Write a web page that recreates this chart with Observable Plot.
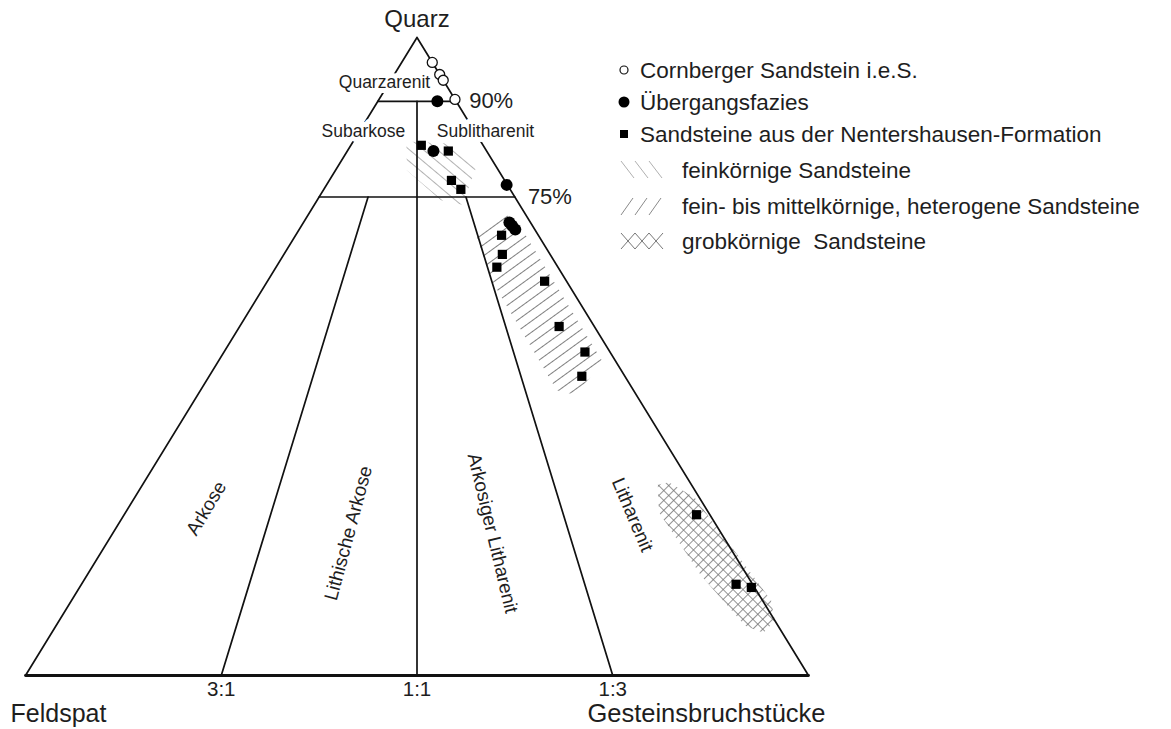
<!DOCTYPE html>
<html>
<head>
<meta charset="utf-8">
<script src="https://cdn.jsdelivr.net/npm/d3@7"></script>
<script src="https://cdn.jsdelivr.net/npm/@observablehq/plot@0.6"></script>
<style>
  body { margin: 0; background: #fff; }
  #wrap { position: relative; width: 1171px; height: 729px; background: #fff; overflow: hidden; }
</style>
</head>
<body>
<div id="wrap"></div>
<script>
// ---------- DATA (ternary percentages: Q = Quarz, F = Feldspat, R = Gesteinsbruchstücke) ----------
const cornbergerQ = [96.1, 94.2, 93.3, 90.3];
const cornbergerF = [0.0, 0.0, 0.0, 0.0];
const cornbergerR = [3.9, 5.8, 6.7, 9.7];

const uebergangQ = [90.0, 82.2, 76.9, 71.0, 70.5, 69.9];
const uebergangF = [2.4, 6.8, 0.1, 2.7, 2.6, 2.5];
const uebergangR = [7.6, 11.0, 23.0, 26.3, 26.9, 27.6];

const nenterQ = [83.1, 82.2, 77.6, 76.2, 69.0, 66.0, 64.0, 61.8, 54.7, 50.7, 46.9, 25.2, 14.3, 13.8];
const nenterF = [7.9, 4.9, 6.8, 6.3, 4.7, 6.1, 7.8, 2.8, 4.5, 3.2, 5.5, 1.7, 2.1, 0.4];
const nenterR = [9.0, 12.9, 15.6, 17.5, 26.3, 27.9, 28.2, 35.4, 40.8, 46.1, 47.6, 73.1, 83.6, 85.8];

// hatched fields (outline vertices, Q and R in %)
const feinQ = [83.7, 83.4, 79.8, 73.8, 74.5, 79.2];
const feinR = [6.8, 12.3, 17.7, 18.9, 15.8, 9.1];
const mittelQ = [68.7, 72.6, 69.8, 49.1, 44.0, 44.7, 62.2];
const mittelR = [23.3, 24.8, 28.6, 49.2, 48.2, 45.5, 28.3];
const grobQ = [29.9, 30.3, 27.9, 18.7, 11.8, 8.6, 6.7, 7.8, 15.7, 25.6];
const grobR = [65.8, 67.0, 71.5, 81.7, 89.3, 91.4, 90.9, 88.0, 78.4, 68.1];

// classification scheme (Folk)
const quarzLevels = [90, 75];
const quarzLevelLabels = ["90%", "75%"];
const ratioShares = [0.25, 0.5, 0.75];       // R / (F + R)
const ratioTops = [75, 90, 75];              // upper end (Q %) of each ratio line
const ratioLabels = ["3:1", "1:1", "1:3"];
const cornerLabels = ["Quarz", "Feldspat", "Gesteinsbruchstücke"];

const topFieldNames = ["Quarzarenit", "Subarkose", "Sublitharenit"];
const topFieldQ = [92.9, 85.3, 85.3];
const topFieldR = [-0.6, 0.5, 16.1];

const fieldNames = ["Arkose", "Lithische Arkose", "Arkosiger Litharenit", "Litharenit"];
const fieldQ = [26.2, 22.3, 22.3, 25.2];
const fieldR = [10.0, 30.1, 48.5, 64.9];
const fieldAngle = [-59, -75, 76.5, 67];

const legendLabels = [
  "Cornberger Sandstein i.e.S.",
  "Übergangsfazies",
  "Sandsteine aus der Nentershausen-Formation",
  "feinkörnige Sandsteine",
  "fein- bis mittelkörnige, heterogene Sandsteine",
  "grobkörnige  Sandsteine"
];

// ---------- helpers ----------
const toX = (q, r) => r + q / 2;
const pt = (q, r, extra = {}) => ({X: toX(q, r), Y: q, ...extra});
const poly = (qs, rs) => { const p = qs.map((q, i) => pt(q, rs[i])); p.push(p[0]); return p; };
const pts = (qs, rs) => qs.map((q, i) => pt(q, rs[i]));

const outline = [pt(100, 0), pt(0, 0), pt(0, 100), pt(100, 0)].map(d => ({...d, id: "outline"}));
const base = [pt(0, 0), pt(0, 100)];
const levelRows = quarzLevels.flatMap((q, i) => [pt(q, 0, {id: "q" + i}), pt(q, 100 - q, {id: "q" + i})]);
const ratioRows = ratioShares.flatMap((s, i) => [pt(0, 100 * s, {id: "r" + i}), pt(ratioTops[i], (100 - ratioTops[i]) * s, {id: "r" + i})]);
const innerLines = [...outline, ...levelRows, ...ratioRows];

const ratioLabelRows = ratioShares.map((s, i) => pt(0, 100 * s, {text: ratioLabels[i]}));
const levelLabelRows = quarzLevels.map((q, i) => pt(q, 100 - q, {text: quarzLevelLabels[i]}));
const topFieldRows = topFieldNames.map((n, i) => pt(topFieldQ[i], topFieldR[i], {text: n}));
const fieldRows = fieldNames.map((n, i) => pt(fieldQ[i], fieldR[i], {text: n, a: fieldAngle[i]}));

const font = "'Liberation Sans', Arial, Helvetica, sans-serif";
const ink = "#1e1e1e";

const chart = Plot.plot({
  width: 1171,
  height: 729,
  marginLeft: 25,
  marginRight: 363,
  marginTop: 37,
  marginBottom: 54,
  x: {domain: [0, 100], axis: null},
  y: {domain: [0, 100], axis: null},
  style: {background: "white", fontFamily: font, overflow: "visible"},
  marks: [
    Plot.line(poly(feinQ, feinR), {x: "X", y: "Y", fill: "url(#hFine)", stroke: "none"}),
    Plot.line(poly(mittelQ, mittelR), {x: "X", y: "Y", fill: "url(#hMed)", stroke: "none"}),
    Plot.line(poly(grobQ, grobR), {x: "X", y: "Y", fill: "url(#hCross)", stroke: "none"}),
    Plot.line(innerLines, {x: "X", y: "Y", z: "id", stroke: "#111", strokeWidth: 1.7, strokeLinejoin: "miter"}),
    Plot.line(base, {x: "X", y: "Y", stroke: "#111", strokeWidth: 2.8}),
    Plot.text(topFieldRows, {x: "X", y: "Y", text: "text", fontSize: 17.5, fill: ink,
      stroke: "white", strokeWidth: 10, fontFamily: font}),
    Plot.text(fieldRows, {x: "X", y: "Y", text: "text", rotate: "a", fontSize: 19, fill: ink, fontFamily: font}),
    Plot.text(ratioLabelRows, {x: "X", y: "Y", text: "text", dy: 14, fontSize: 20.5, fill: ink, fontFamily: font}),
    Plot.text(levelLabelRows, {x: "X", y: "Y", text: "text", dx: 13, textAnchor: "start", fontSize: 22, fill: ink, fontFamily: font}),
    Plot.text([pt(100, 0, {text: cornerLabels[0]})], {x: "X", y: "Y", text: "text", dy: -18, fontSize: 24, fill: ink, fontFamily: font}),
    Plot.text([pt(0, 0, {text: cornerLabels[1]})], {x: "X", y: "Y", text: "text", dx: -15, dy: 38, textAnchor: "start", fontSize: 25, fill: ink, fontFamily: font}),
    Plot.text([pt(0, 100, {text: cornerLabels[2]})], {x: "X", y: "Y", text: "text", dx: 17, dy: 38, textAnchor: "end", fontSize: 25.5, fill: ink, fontFamily: font}),
    Plot.dot(pts(cornbergerQ, cornbergerR), {x: "X", y: "Y", r: 5, fill: "white", stroke: "#111", strokeWidth: 1.3}),
    Plot.dot(pts(uebergangQ, uebergangR), {x: "X", y: "Y", r: 6, fill: "#000", stroke: "none"}),
    Plot.dot(pts(nenterQ, nenterR), {x: "X", y: "Y", symbol: "square", r: 5.2, fill: "#000", stroke: "none"})
  ]
});

function addPatterns(svgSel) {
  const defs = svgSel.insert("defs", ":first-child");
  const p1 = defs.append("pattern").attr("id", "hFine").attr("patternUnits", "userSpaceOnUse")
    .attr("width", 9).attr("height", 9).attr("patternTransform", "rotate(40)");
  p1.append("line").attr("x1", 0).attr("y1", 4.5).attr("x2", 9).attr("y2", 4.5)
    .attr("stroke", "#a8a8a8").attr("stroke-width", 0.9);
  const p2 = defs.append("pattern").attr("id", "hMed").attr("patternUnits", "userSpaceOnUse")
    .attr("width", 9).attr("height", 9).attr("patternTransform", "rotate(-36)");
  p2.append("line").attr("x1", 0).attr("y1", 4.5).attr("x2", 9).attr("y2", 4.5)
    .attr("stroke", "#707070").attr("stroke-width", 0.9);
  const p3 = defs.append("pattern").attr("id", "hCross").attr("patternUnits", "userSpaceOnUse")
    .attr("width", 7).attr("height", 7).attr("patternTransform", "rotate(45)");
  p3.append("line").attr("x1", 0).attr("y1", 3.5).attr("x2", 7).attr("y2", 3.5)
    .attr("stroke", "#777").attr("stroke-width", 0.8);
  p3.append("line").attr("x1", 3.5).attr("y1", 0).attr("x2", 3.5).attr("y2", 7)
    .attr("stroke", "#777").attr("stroke-width", 0.8);
}
addPatterns(d3.select(chart));
d3.select(chart).style("position", "absolute").style("left", "0px").style("top", "0px");
document.getElementById("wrap").appendChild(chart);

// ---------- legend ----------
const lg = d3.select("#wrap").append("svg")
  .attr("width", 571).attr("height", 260)
  .style("position", "absolute").style("left", "600px").style("top", "0px")
  .style("font-family", font);
const rowY = [70, 102, 134, 170, 206, 241];
const sym = ["open", "dot", "square", "fine", "med", "cross"];
legendLabels.forEach((t, i) => {
  const y = rowY[i];
  const g = lg.append("g");
  if (sym[i] === "open") g.append("circle").attr("cx", 24).attr("cy", y).attr("r", 4).attr("fill", "white").attr("stroke", "#111").attr("stroke-width", 1.2);
  if (sym[i] === "dot") g.append("circle").attr("cx", 24).attr("cy", y).attr("r", 5.5).attr("fill", "#000");
  if (sym[i] === "square") g.append("rect").attr("x", 20).attr("y", y - 4).attr("width", 8).attr("height", 8).attr("fill", "#000");
  if (sym[i] === "fine") [0, 1, 2].forEach(k => g.append("line")
      .attr("x1", 21 + 14 * k).attr("y1", y - 9).attr("x2", 21 + 14 * k + 13).attr("y2", y + 8)
      .attr("stroke", "#b0b0b0").attr("stroke-width", 1));
  if (sym[i] === "med") [0, 1, 2].forEach(k => g.append("line")
      .attr("x1", 21 + 14 * k).attr("y1", y + 9).attr("x2", 21 + 14 * k + 12).attr("y2", y - 8)
      .attr("stroke", "#8a8a8a").attr("stroke-width", 1));
  if (sym[i] === "cross") {
    const zig = (off) => d3.range(0, 4).map(k => [21 + 14 * k, y + (((k + off) % 2) ? 8 : -8)]);
    g.append("path").attr("d", d3.line()(zig(0))).attr("fill", "none").attr("stroke", "#777").attr("stroke-width", 1);
    g.append("path").attr("d", d3.line()(zig(1))).attr("fill", "none").attr("stroke", "#777").attr("stroke-width", 1);
  }
  g.append("text").attr("x", i < 3 ? 40 : 82).attr("y", y).attr("dy", "0.35em")
    .attr("font-size", 22.5).attr("fill", ink).style("white-space", "pre").text(t);
});
</script>
</body>
</html>
